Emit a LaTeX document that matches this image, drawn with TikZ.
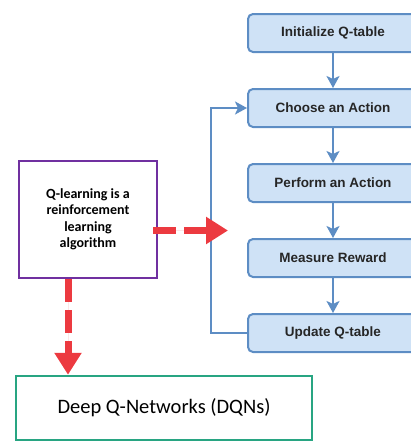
\documentclass[tikz,border=0pt]{standalone}
\usepackage{fontspec}
\setmainfont{Carlito}
\newfontfamily\arialfont{Liberation Sans}
\usetikzlibrary{positioning, arrows.meta}
\definecolor{stepfill}{RGB}{207,226,246}
\definecolor{stepline}{RGB}{93,141,196}
\definecolor{dashred}{RGB}{236,58,64}
\definecolor{algopurple}{RGB}{112,48,160}
\definecolor{dqngreen}{RGB}{40,165,130}
\tikzset{
    >=Stealth, % Arrowheads
    node distance=75pt, % Pitch between the loop boxes
}

\begin{document}
\begin{tikzpicture}[
    x=1pt, y=-1pt,
    on grid,
    % Rounded boxes of the training loop
    stepbox/.style={draw=stepline, fill=stepfill, line width=2pt, rounded corners=5pt,
        minimum width=170pt, minimum height=38pt, text=black!85,
        font=\arialfont\bfseries\fontsize{13.5}{16}\selectfont},
    flow/.style={->, draw=stepline, line width=2pt,
        >={Stealth[length=12pt, width=13pt, inset=3pt]}},
    % Big red dashed arrows
    redarrow/.style={-{Triangle[length=22pt, width=26pt]}, draw=dashred, fill=dashred,
        line width=7pt, dash pattern=on 23pt off 8pt},
    algobox/.style={draw=algopurple, line width=2pt, minimum width=138pt, minimum height=117pt,
        align=center, font=\bfseries\fontsize{14}{16.5}\selectfont},
    dqnbox/.style={draw=dqngreen, line width=2.5pt, minimum width=296pt, minimum height=64pt,
        font=\fontsize{20.5}{24}\selectfont}
]
    \useasboundingbox (0,0) rectangle (411,442);
    \clip (0,0) rectangle (411,442);

    % --- Training loop ---
    \node[stepbox] (init) at (333,33) {Initialize Q-table};
    \node[stepbox] (choose) [below=of init] {Choose an Action};
    \node[stepbox] (perform) [below=of choose] {Perform an Action};
    \node[stepbox] (measure) [below=of perform] {Measure Reward};
    \node[stepbox] (update) [below=of measure] {Update Q-table};

    \draw[flow] (init) -- (choose);
    \draw[flow] (choose) -- (perform);
    \draw[flow] (perform) -- (measure);
    \draw[flow] (measure) -- (update);
    % back to the action choice
    \draw[flow] (update.west) -- ++(-36,0) |- (choose.west);

    % --- Left side ---
    \node[algobox] (qlearn) at (88,219.5) {Q-learning is a\\reinforcement\\learning\\algorithm};
    \node[dqnbox] (dqn) at (164,408) {Deep Q-Networks (DQNs)};

    \coordinate (loopin) at (228,230.5);
    \draw[redarrow] ([xshift=-5pt]qlearn.east |- loopin) -- (loopin);
    \draw[redarrow] ([xshift=-20pt]qlearn.south) -- ([xshift=-20pt]qlearn.south |- dqn.north);

\end{tikzpicture}
\end{document}
